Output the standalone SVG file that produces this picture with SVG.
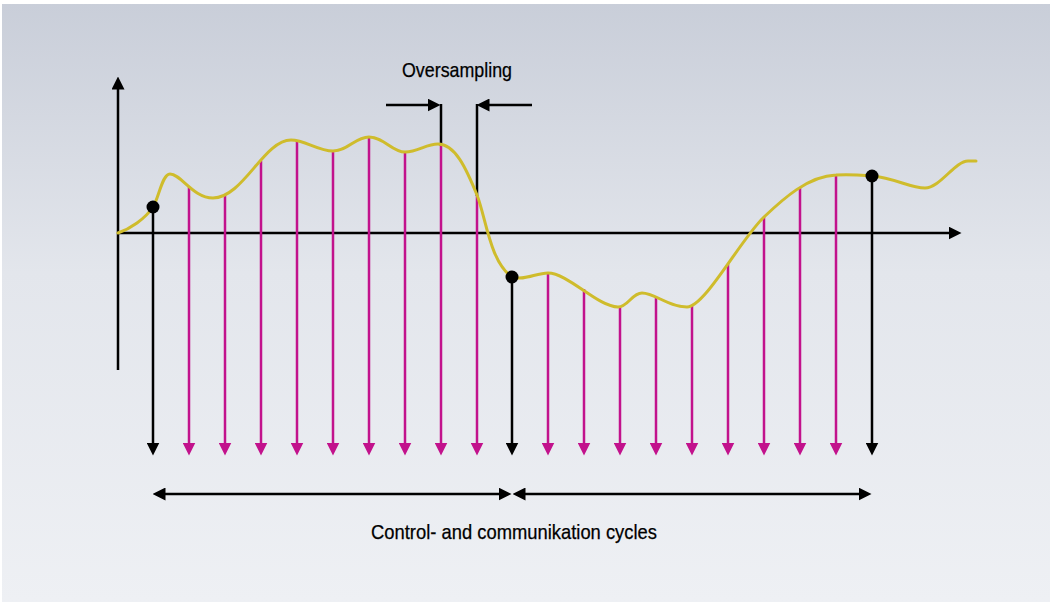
<svg xmlns="http://www.w3.org/2000/svg" width="1053" height="605" viewBox="0 0 1053 605">
<defs>
<linearGradient id="bg" x1="0" y1="0" x2="0" y2="1">
<stop offset="0" stop-color="#c9ced9"/>
<stop offset="0.45" stop-color="#e3e6ec"/>
<stop offset="1" stop-color="#eef0f4"/>
</linearGradient>
<marker id="ab" markerUnits="userSpaceOnUse" markerWidth="13" markerHeight="13" viewBox="0 0 12 12" refX="6" refY="6" orient="auto-start-reverse"><path d="M0,0 L12,6 L0,12 z" fill="#000"/></marker>
<marker id="am" markerUnits="userSpaceOnUse" markerWidth="13" markerHeight="13" viewBox="0 0 12 12" refX="6" refY="6" orient="auto"><path d="M0,0 L12,6 L0,12 z" fill="#c2128c"/></marker>
<style>
.k{stroke:#000;stroke-width:2.5;fill:none}
.m{stroke:#c2128c;stroke-width:2.5;fill:none}
.ka{stroke:#000;stroke-width:2.5;fill:none;marker-end:url(#ab)}
.ma{stroke:#c2128c;stroke-width:2.5;fill:none;marker-end:url(#am)}
.dd{stroke:#000;stroke-width:2.5;fill:none;marker-start:url(#ab);marker-end:url(#ab)}
.curve{stroke:#cfbc2c;stroke-width:3;fill:none;stroke-linecap:round}
.t{font-family:"Liberation Sans",Arial,sans-serif;font-size:21px;fill:#000;stroke:#000;stroke-width:0.25}
</style>
</defs>
<rect x="0" y="0" width="1053" height="605" fill="#fff"/>
<rect x="2" y="4" width="1048" height="598" fill="url(#bg)"/>

<g id="connectors">
<line class="ka" x1="118" y1="370" x2="118" y2="83"/>
<line class="ka" x1="118" y1="233" x2="955" y2="233"/>
<line class="ka" x1="153" y1="207" x2="153" y2="449"/>
<line class="ka" x1="512" y1="277" x2="512" y2="449"/>
<line class="ka" x1="872" y1="176" x2="872" y2="449"/>
<line class="ma" x1="189" y1="187" x2="189" y2="449"/>
<line class="ma" x1="225" y1="195" x2="225" y2="449"/>
<line class="ma" x1="261" y1="161" x2="261" y2="449"/>
<line class="ma" x1="297" y1="141" x2="297" y2="449"/>
<line class="ma" x1="333" y1="151" x2="333" y2="449"/>
<line class="ma" x1="369" y1="137" x2="369" y2="449"/>
<line class="ma" x1="405" y1="152" x2="405" y2="449"/>
<line class="ma" x1="441" y1="145" x2="441" y2="449"/>
<line class="ma" x1="477" y1="195" x2="477" y2="449"/>
<line class="ma" x1="548" y1="273" x2="548" y2="449"/>
<line class="ma" x1="584" y1="289" x2="584" y2="449"/>
<line class="ma" x1="620" y1="307" x2="620" y2="449"/>
<line class="ma" x1="656" y1="298" x2="656" y2="449"/>
<line class="ma" x1="692" y1="305" x2="692" y2="449"/>
<line class="ma" x1="728" y1="264" x2="728" y2="449"/>
<line class="ma" x1="764" y1="217" x2="764" y2="449"/>
<line class="ma" x1="800" y1="188" x2="800" y2="449"/>
<line class="ma" x1="836" y1="175" x2="836" y2="449"/>
<line class="k" x1="441" y1="104" x2="441" y2="146"/>
<line class="k" x1="477" y1="104" x2="477" y2="196"/>
<line class="ka" x1="386" y1="105" x2="434" y2="105"/>
<line class="ka" x1="532" y1="105" x2="483" y2="105"/>
<line class="dd" x1="159" y1="494" x2="505" y2="494"/>
<line class="dd" x1="519" y1="494" x2="865" y2="494"/>
</g>

<g id="signal">
<path class="curve" d="M118,233 C130,229 145,219 153,207 C159,198 162,174 170,174 C181,174 193,198 213,198 C243,198 264,140 291,140 C305,140 318,151 333,151 C348,151 355,137 369,137 C384,137 392,152 405,152 C418,152 426,144 438,144 C455,144 466,168 477,195 C486,218 490,262 512,277 C524,281 536,273 548,273 C568,273 598,307 618,307 C628,307 632,293 642,293 C655,293 668,307 687,307 C705,307 740,240 764,217 C783,199 808,176 836,175 C850,174 860,175 872,176 C895,178 910,188 925,188 C940,188 955,161 968,161 L976,161"/>
</g>

<g id="samples">
<circle cx="153" cy="207" r="6.5" fill="#000"/>
<circle cx="512" cy="277" r="6.5" fill="#000"/>
<circle cx="872" cy="176" r="6.5" fill="#000"/>
</g>

<g id="label-oversampling">
<text class="t" x="402" y="77" textLength="110" lengthAdjust="spacingAndGlyphs">Oversampling</text>
</g>
<g id="label-cycles">
<text class="t" x="371" y="539" textLength="286" lengthAdjust="spacingAndGlyphs">Control- and communikation cycles</text>
</g>
</svg>
